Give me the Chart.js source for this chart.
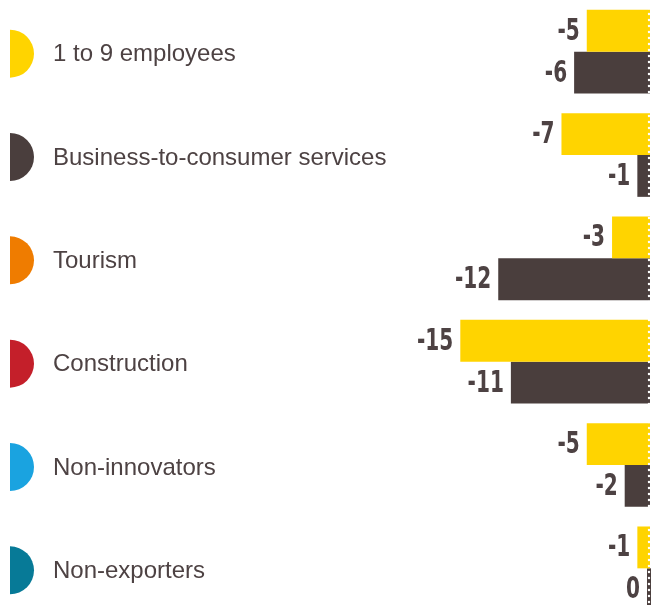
<!DOCTYPE html>
<html>
<head>
<meta charset="utf-8">
<script src="https://cdn.jsdelivr.net/npm/chart.js@4/dist/chart.umd.min.js"></script>
<style>
  html, body { margin: 0; padding: 0; background: #fff; overflow: hidden; }
  #wrap { position: relative; width: 651px; height: 620px; }
</style>
</head>
<body>
<div id="wrap"><canvas id="myChart"></canvas></div>
<script>
// groups of businesses and their change figures
var categories = ['1 to 9 employees', 'Business-to-consumer services', 'Tourism', 'Construction', 'Non-innovators', 'Non-exporters'];
var dotColors = ['#FFD400', '#4A3E3D', '#EF7C00', '#C41F2A', '#1AA3E0', '#077A97'];
var firstValues = [-5, -7, -3, -15, -5, -1];
var secondValues = [-6, -1, -12, -11, -2, 0];

var yellow = '#FFD400';
var brown = '#4A3E3D';
var textColor = '#4D4243';

// group names with a half disc in front of each
var sideLabels = {
    id: 'sideLabels',
    afterDraw: function(chart) {
        var ctx = chart.ctx;
        var y = chart.scales.y;
        ctx.save();
        categories.forEach(function(name, i) {
            var cy = y.getPixelForValue(i) + 2;
            ctx.fillStyle = dotColors[i];
            ctx.beginPath();
            ctx.arc(10, cy, 24, -Math.PI / 2, Math.PI / 2);
            ctx.closePath();
            ctx.fill();
            ctx.fillStyle = textColor;
            ctx.font = '24px "Liberation Sans", Arial, sans-serif';
            ctx.textBaseline = 'middle';
            ctx.textAlign = 'left';
            ctx.fillText(name, 53, cy + 1);
        });
        ctx.restore();
    }
};

// value printed to the left of every bar, squeezed narrow
var valueLabels = {
    id: 'valueLabels',
    afterDatasetsDraw: function(chart) {
        var ctx = chart.ctx;
        var squeeze = 0.72;
        chart.data.datasets.forEach(function(ds, di) {
            chart.getDatasetMeta(di).data.forEach(function(bar, i) {
                var left = Math.min(bar.x, bar.base);
                ctx.save();
                ctx.fillStyle = textColor;
                ctx.font = 'bold 31px "DejaVu Sans Condensed", "DejaVu Sans", sans-serif';
                ctx.textAlign = 'right';
                ctx.textBaseline = 'middle';
                ctx.translate(left - 7, bar.y + 1);
                ctx.scale(squeeze, 1);
                ctx.fillText(String(ds.data[i]), 0, 0);
                ctx.restore();
            });
        });
    }
};

// white perforation along the zero line
var zeroDots = {
    id: 'zeroDots',
    afterDatasetsDraw: function(chart) {
        var ctx = chart.ctx;
        var x = chart.scales.x.getPixelForValue(0) - 1;
        ctx.save();
        ctx.fillStyle = '#fff';
        for (var yy = 2; yy < chart.height; yy += 6) {
            ctx.beginPath();
            ctx.arc(x, yy, 1.2, 0, Math.PI * 2);
            ctx.fill();
        }
        ctx.restore();
    }
};

var ctx = document.getElementById('myChart').getContext('2d');
var myChart = new Chart(ctx, {
    type: 'bar',
    data: {
        labels: categories,
        datasets: [{
            data: firstValues,
            backgroundColor: yellow,
            borderWidth: 0,
            minBarLength: 4
        }, {
            data: secondValues,
            backgroundColor: brown,
            borderWidth: 0,
            minBarLength: 4
        }]
    },
    options: {
        indexAxis: 'y',
        responsive: true,
        maintainAspectRatio: false,
        animation: false,
        layout: { padding: 0 },
        categoryPercentage: 0.81,
        barPercentage: 1,
        plugins: {
            legend: { display: false },
            tooltip: { enabled: false }
        },
        scales: {
            x: { display: false, min: -51.4, max: 0.08 },
            y: { display: false }
        }
    },
    plugins: [sideLabels, valueLabels, zeroDots]
});
</script>
</body>
</html>
